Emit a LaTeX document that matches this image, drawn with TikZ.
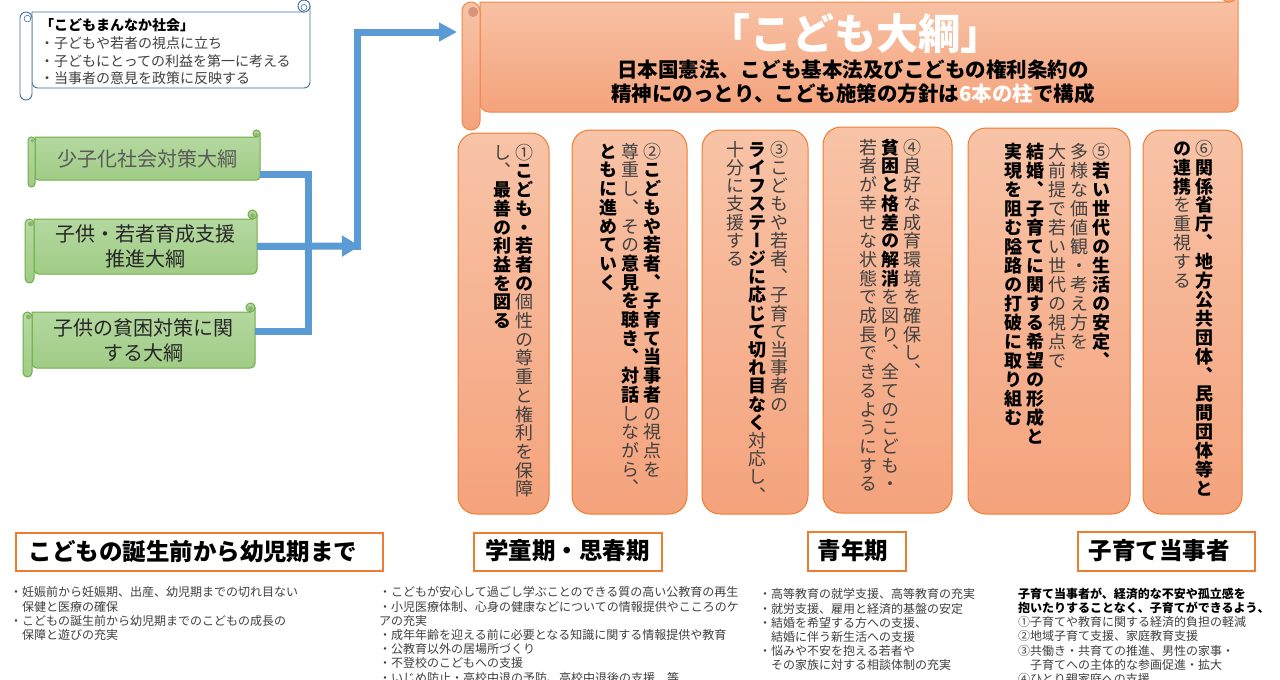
\documentclass[tikz,border=0pt]{standalone}
\usepackage{fontspec}
\setmainfont{Noto Sans CJK JP}
\newfontfamily\jpv[RawFeature=+vert]{Noto Sans CJK JP}
\usetikzlibrary{arrows.meta}
\definecolor{barrow}{HTML}{5B9BD5}
\definecolor{sblue}{HTML}{41719C}
\definecolor{gedge}{HTML}{70AD47}
\definecolor{gtop}{HTML}{B6D9A2}
\definecolor{gbot}{HTML}{A0CC86}
\definecolor{gcurlc}{HTML}{86B56B}
\definecolor{oedge}{HTML}{F0894A}
\definecolor{otop}{HTML}{F8C3A7}
\definecolor{obot}{HTML}{F4A37C}
\definecolor{ocurlc}{HTML}{D9937A}
\definecolor{hedge}{HTML}{ED7D31}
\definecolor{vgray}{HTML}{404040}
\definecolor{tgray}{HTML}{404040}
\definecolor{gonetext}{HTML}{595959}
\definecolor{gtwotext}{HTML}{262626}

% vertical (tategaki) text helpers
\newdimen\kdcw \kdcw=22pt
\def\kdpitch{18.7pt}
\def\kdstyle{}
\def\kdend{\kdend}
\def\kdsegi#1{\ifx#1\kdend\else\hbox to\kdcw{\hss\kdstyle\vrule height 16pt depth 2.2pt width 0pt\relax#1\hss}\expandafter\kdsegi\fi}
\newcommand\kdn[1]{\def\kdstyle{\color{vgray}}\kdsegi#1\kdend}
\newcommand\kdb[1]{\def\kdstyle{\bfseries\color{black}}\kdsegi#1\kdend}
\newcommand\kdcol[1]{\vtop{\baselineskip=\kdpitch\lineskiplimit=-\maxdimen\lineskip=0pt\relax#1}}

% horizontal scroll: l t r b ch prefix corner
\newcommand\hscroll[7]{%
 \path[#6body] ({#1+#5},{#2+#5}) -- ({#3-#5/2},{#2+#5}) -- ({#3-#5/2},{#2+#5/2}) -- ({#3},{#2+#5/2}) [rounded corners=#7pt] -- ({#3},{#4-#5}) -- ({#1+#5},{#4-#5}) [sharp corners] -- cycle;
 \path[#6body] ({#3-#5/2},{#2+#5/2}) circle[radius=#5/2];
 \path[#6curl] ({#3-#5/2},{#2+#5*0.62}) circle[radius=#5/4];
 \path[#6body, rounded corners=#7pt] ({#1},{#2+#5}) rectangle ({#1+#5},{#4});
 \path[#6curl] ({#1+#5*0.62},{#2+#5*1.55}) circle[radius=#5*0.28];
}

\begin{document}
\begin{tikzpicture}[x=1pt,y=-1pt,
  bsbody/.style={fill=white, draw=sblue, line width=0.9pt},
  bscurl/.style={fill=white, draw=sblue, line width=0.6pt},
  gbody/.style={top color=gtop, bottom color=gbot, draw=gedge, line width=1pt},
  gcurl/.style={fill=gcurlc},
  obody/.style={top color=otop, bottom color=obot, draw=oedge, line width=1pt},
  ocurl/.style={fill=ocurlc},
  gtext/.style={inner sep=0pt, align=center, text=gtwotext, font=\fontsize{20}{25}\selectfont},
  bline/.style={draw=barrow, line width=7pt},
  pillar/.style={rounded corners=18pt, top color=otop, bottom color=obot, draw=hedge, line width=1pt},
  vtext/.style={anchor=north east, inner sep=0pt, font=\jpv\fontsize{18}{18.7}\selectfont},
  hbox/.style={draw=hedge, line width=1.4pt, fill=white},
  htext/.style={inner sep=0pt, font=\bfseries\fontsize{23.5}{26}\selectfont},
  btext/.style={anchor=north west, inner sep=0pt, align=left, text=tgray, font=\fontsize{12}{14.2}\selectfont}
]
\useasboundingbox (0,0) rectangle (1280,680);
\clip (0,0) rectangle (1280,680);
\fill[white] (0,0) rectangle (1280,680);

% top-left scroll
\hscroll{20}{0}{310}{100}{12}{bs}{6}
\node[anchor=north west, inner sep=0pt, align=left, text=tgray, font=\fontsize{14}{17.7}\selectfont] (soc) at (40,18.4)
 {\textcolor{black}{\bfseries 「こどもまんなか社会」}\\・子どもや若者の視点に立ち\\・子どもにとっての利益を第一に考える\\・当事者の意見を政策に反映する};

% green scrolls
\hscroll{28}{130}{260}{187}{7}{g}{3.5}
\node[gtext, text=gonetext, minimum width=225pt, minimum height=43pt] (g1) at (147.5,158.5) {少子化社会対策大綱};
\hscroll{25}{210}{257}{283}{9}{g}{4.5}
\node[gtext, minimum width=223pt, minimum height=55pt] (g2) at (145.5,246.5) {子供・若者育成支援\\推進大綱};
\hscroll{23}{303}{255}{377}{9}{g}{4.5}
\node[gtext, minimum width=223pt, minimum height=56pt] (g3) at (143.5,340) {子供の貧困対策に関\\する大綱};

% blue connectors
\coordinate (j) at (308,246);
\coordinate (a1) at (360,246);
\coordinate (k) at (357,249.5);
\coordinate (a2) at (457,32);
\draw[bline] ([yshift=-15.5pt]g1.east) -| (j);
\draw[bline] ([yshift=9pt]g3.east) -| (j);
\draw[bline, -{Triangle[length=18pt,width=20pt]}] (g2.east) -- (a1);
\draw[bline, -{Triangle[length=18pt,width=18pt]}] (k) |- (a2);

% title scroll
\hscroll{462}{-16}{1238}{130}{18}{o}{9}
\node[inner sep=0pt, text=white, font=\bfseries\fontsize{42}{46}\selectfont] (ttl) at (855,33) {「こども大綱」};
\node[inner sep=0pt, align=center, font=\bfseries\fontsize{20.5}{24}\selectfont] (sub) at (853,82)
 {日本国憲法、こども基本法及びこどもの権利条約の\\精神にのっとり、こども施策の方針は{\color{white}6本の柱}で構成};

% pillars
\node[pillar, minimum width=91pt, minimum height=381pt] (p1) at (503.5,323.5) {};
\node[pillar, minimum width=115pt, minimum height=384pt] (p2) at (629.5,322) {};
\node[pillar, minimum width=106pt, minimum height=384pt] (p3) at (755,322) {};
\node[pillar, minimum width=129pt, minimum height=386pt] (p4) at (887.5,320) {};
\node[pillar, minimum width=162pt, minimum height=386pt] (p5) at (1049,321) {};
\node[pillar, minimum width=99pt, minimum height=384pt] (p6) at (1192.5,322) {};

\node[vtext] (p1t) at (536,143) {\kdcol{\kdn{し、}\kdb{最善の利益を図る}}\kdcol{\kdn{①}\kdb{こども・若者の}\kdn{個性の尊重と権利を保障}}};
\node[vtext] (p2t) at (664,142) {\kdcol{\kdb{ともに進めていく}}\kdcol{\kdn{尊重し、その}\kdb{意見を聴き、対話}\kdn{しながら、}}\kdcol{\kdn{②}\kdb{こどもや若者、子育て当事者}\kdn{の視点を}}};
\node[vtext] (p3t) at (791,140) {\def\kdpitch{18.2pt}\kdcol{\kdn{十分に支援する}}\kdcol{\kdb{ライフステージに応じて切れ目なく}\kdn{対応し、}}\kdcol{\kdn{③こどもや若者、子育て当事者の}}};
\node[vtext] (p4t) at (924,138) {\kdcol{\kdn{若者が幸せな状態で成長できるようにする}}\kdcol{\kdb{貧困と格差の解消}\kdn{を図り、全てのこども・}}\kdcol{\kdn{④良好な成育環境を確保し、}}};
\node[vtext] (p5t) at (1113,142) {\def\kdpitch{19pt}\kdcol{\kdb{実現を阻む隘路の打破に取り組む}}\kdcol{\kdb{結婚、子育てに関する希望の形成と}}\kdcol{\kdn{大前提で若い世代の視点で}}\kdcol{\kdn{多様な価値観・考え方を}}\kdcol{\kdn{⑤}\kdb{若い世代の生活の安定、}}};
\node[vtext] (p6t) at (1216,139) {\def\kdpitch{18.9pt}\kdcol{\kdb{の連携}\kdn{を重視する}}\kdcol{\kdn{⑥}\kdb{関係省庁、地方公共団体、民間団体等と}}};

% headings
\node[hbox, minimum width=367pt, minimum height=38pt] (h1) at (199.5,552) {};
\node[htext] (h1t) at (193,552) {こどもの誕生前から幼児期まで};
\node[hbox, minimum width=188pt, minimum height=38pt] (h2) at (568,552) {};
\node[htext] (h2t) at (567.5,551) {学童期・思春期};
\node[hbox, minimum width=98pt, minimum height=39pt] (h3) at (857,551.5) {};
\node[htext] (h3t) at (853,550.5) {青年期};
\node[hbox, minimum width=177pt, minimum height=39pt] (h4) at (1166.5,551.5) {};
\node[htext] (h4t) at (1159,550.5) {子育て当事者};

% bottom texts
\node[btext] (b1) at (10,586.5) {・妊娠前から妊娠期、出産、幼児期までの切れ目ない\\　保健と医療の確保\\・こどもの誕生前から幼児期までのこどもの成長の\\　保障と遊びの充実};
\node[btext] (b2) at (379,586.5) {・こどもが安心して過ごし学ぶことのできる質の高い公教育の再生\\・小児医療体制、心身の健康などについての情報提供やこころのケ\\アの充実\\・成年年齢を迎える前に必要となる知識に関する情報提供や教育\\・公教育以外の居場所づくり\\・不登校のこどもへの支援\\・いじめ防止・高校中退の予防、高校中退後の支援　等};
\node[btext] (b3) at (759,588.5) {・高等教育の就学支援、高等教育の充実\\・就労支援、雇用と経済的基盤の安定\\・結婚を希望する方への支援、\\　結婚に伴う新生活への支援\\・悩みや不安を抱える若者や\\　その家族に対する相談体制の充実};
\node[btext] (b4) at (1018,587.5) {\textcolor{black}{\bfseries 子育て当事者が、経済的な不安や孤立感を}\\\textcolor{black}{\bfseries 抱いたりすることなく、子育てができるよう、}\\①子育てや教育に関する経済的負担の軽減\\②地域子育て支援、家庭教育支援\\③共働き・共育ての推進、男性の家事・\\　子育てへの主体的な参画促進・拡大\\④ひとり親家庭への支援};
\end{tikzpicture}
\end{document}
